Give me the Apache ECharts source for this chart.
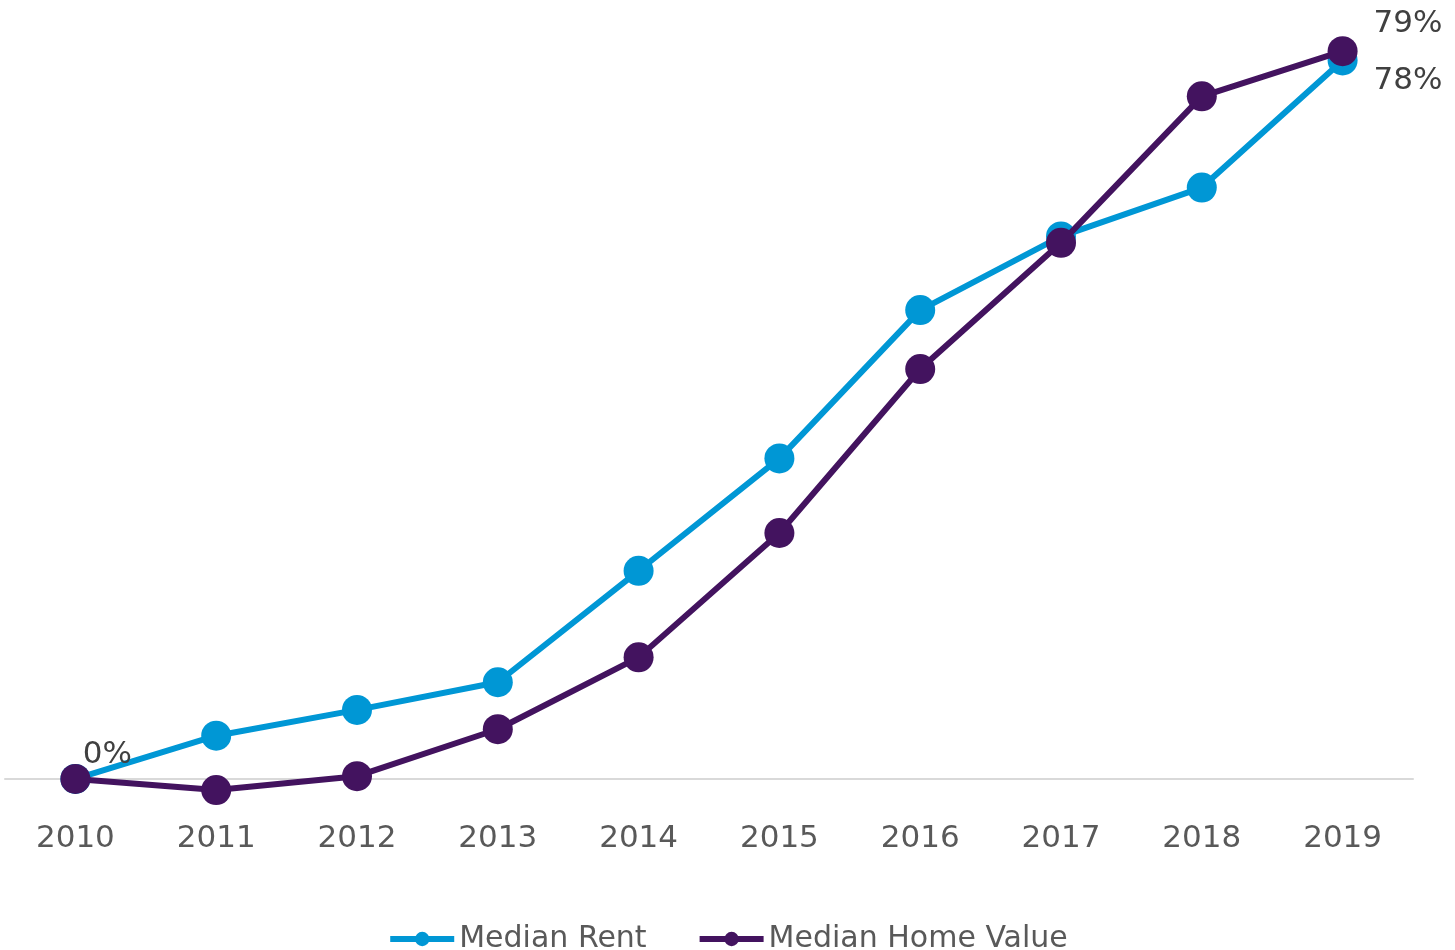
<!DOCTYPE html>
<html>
<head>
<meta charset="utf-8">
<script src="https://cdn.jsdelivr.net/npm/echarts@6/dist/echarts.min.js"></script>
<style>
  html, body { margin: 0; padding: 0; background: #ffffff; }
  #chart { width: 1455px; height: 950px; }
</style>
</head>
<body>
<div id="chart"></div>
<script>
// Cumulative percent change since 2010
const years = ['2010', '2011', '2012', '2013', '2014', '2015', '2016', '2017', '2018', '2019'];
const medianRent = [0, 4.7, 7.5, 10.5, 22.6, 34.8, 50.9, 58.9, 64.2, 78];
const medianHomeValue = [0, -1.2, 0.3, 5.4, 13.2, 26.7, 44.5, 58.2, 74.1, 79];

const FONT = 'DejaVu Sans';
const RENT_COLOR = '#0097D5';
const HOME_COLOR = '#43135F';

const labelStyle = { fontFamily: FONT, fontSize: 31, color: '#404040', formatter: p => Math.round(p.value) + '%' };

// Value labels only on the first and last points
const rentData = medianRent.map((v, i) => {
  if (i === 0) return { value: v, label: Object.assign({ show: true, position: 'top', distance: 0, offset: [32, 6] }, labelStyle) };
  if (i === medianRent.length - 1) return { value: v, label: Object.assign({ show: true, position: 'right', distance: 16, offset: [0, 21] }, labelStyle) };
  return v;
});
const homeData = medianHomeValue.map((v, i) => {
  if (i === medianHomeValue.length - 1) return { value: v, label: Object.assign({ show: true, position: 'right', distance: 16, offset: [0, -27] }, labelStyle) };
  return v;
});

const chart = echarts.init(document.getElementById('chart'));
chart.setOption({
  backgroundColor: '#ffffff',
  animation: false,
  grid: { left: 5, width: 1408, top: 42, bottom: 152.6, containLabel: false },
  legend: {
    top: 919,
    left: 'center',
    itemWidth: 64,
    itemHeight: 18,
    itemGap: 50,
    lineStyle: { width: 6 },
    textStyle: { fontFamily: FONT, fontSize: 30, color: '#595959' },
    data: ['Median Rent', 'Median Home Value']
  },
  xAxis: {
    type: 'category',
    data: years,
    boundaryGap: true,
    axisLine: { onZero: true, lineStyle: { color: '#d9d9d9', width: 2 } },
    axisTick: { show: false },
    axisLabel: { fontFamily: FONT, fontSize: 31, color: '#595959', margin: 26 }
  },
  yAxis: {
    type: 'value',
    min: -2,
    max: 80,
    show: false,
    splitLine: { show: false }
  },
  series: [
    {
      name: 'Median Rent',
      type: 'line',
      data: rentData,
      symbol: 'circle',
      symbolSize: 30,
      color: RENT_COLOR,
      lineStyle: { width: 6, color: RENT_COLOR },
      itemStyle: { color: RENT_COLOR },
      z: 2
    },
    {
      name: 'Median Home Value',
      type: 'line',
      data: homeData,
      symbol: 'circle',
      symbolSize: 30,
      color: HOME_COLOR,
      lineStyle: { width: 6, color: HOME_COLOR },
      itemStyle: { color: HOME_COLOR },
      z: 3
    }
  ]
});
</script>
</body>
</html>
